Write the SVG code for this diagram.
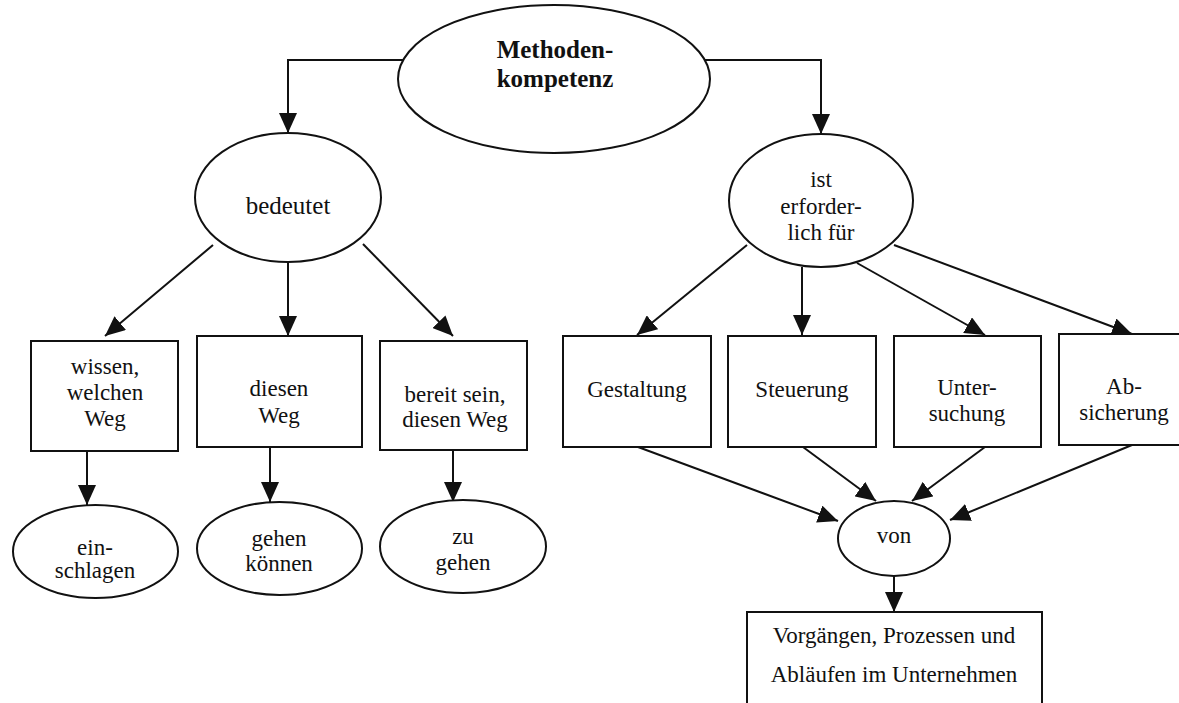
<svg xmlns="http://www.w3.org/2000/svg" width="1179" height="703" viewBox="0 0 1179 703">
  <style>
    .shape { fill: #ffffff; stroke: #111111; stroke-width: 2; }
    .edge { fill: none; stroke: #111111; stroke-width: 2; marker-end: url(#arrow); }
    text { font-family: "Liberation Serif", "Times New Roman", serif; font-size: 23px; fill: #111111; text-anchor: middle; }
    .title { font-weight: bold; font-size: 25px; }
  </style>
  <defs>
    <marker id="arrow" markerUnits="userSpaceOnUse" markerWidth="20" markerHeight="18" refX="20" refY="9" orient="auto">
      <path d="M0,0 L20,9 L0,18 z" fill="#111111"/>
    </marker>
  </defs>
  <rect width="1179" height="703" fill="#ffffff"/>

  <g id="connectors">
    <path class="edge" d="M403,60 H288 V133"/>
    <path class="edge" d="M705,60 H821 V134"/>
    <path class="edge" d="M213,245 L105,336"/>
    <path class="edge" d="M288,262 L288,336"/>
    <path class="edge" d="M363,244 L453,336"/>
    <path class="edge" d="M87,451 L87,505"/>
    <path class="edge" d="M270,447 L270,502"/>
    <path class="edge" d="M453,450 L453,502"/>
    <path class="edge" d="M747,245 L637,335"/>
    <path class="edge" d="M802,267 L802,335"/>
    <path class="edge" d="M857,263 L985,335"/>
    <path class="edge" d="M894,245 L1132,334"/>
    <path class="edge" d="M638,447 L838,521"/>
    <path class="edge" d="M803,447 L876,501"/>
    <path class="edge" d="M985,447 L912,501"/>
    <path class="edge" d="M1132,445 L950,520"/>
    <path class="edge" d="M894,576 L894,612"/>
  </g>

  <g id="methodenkompetenz">
    <ellipse class="shape" cx="554" cy="79" rx="156" ry="74"/>
    <text class="title" x="555" y="58">Methoden-</text>
    <text class="title" x="555" y="87">kompetenz</text>
  </g>

  <g id="bedeutet">
    <ellipse class="shape" cx="288" cy="197.5" rx="93" ry="64.5"/>
    <text x="288" y="214" style="font-size:25px">bedeutet</text>
  </g>

  <g id="ist-erforderlich">
    <ellipse class="shape" cx="821" cy="200.5" rx="92" ry="66.5"/>
    <text x="821" y="187">ist</text>
    <text x="821" y="214">erforder-</text>
    <text x="821" y="240">lich für</text>
  </g>

  <g id="wissen">
    <rect class="shape" x="31" y="341" width="147" height="110"/>
    <text x="105" y="374">wissen,</text>
    <text x="105" y="400">welchen</text>
    <text x="105" y="426">Weg</text>
  </g>

  <g id="diesen-weg">
    <rect class="shape" x="197" y="336" width="165" height="111"/>
    <text x="279" y="396">diesen</text>
    <text x="279" y="423">Weg</text>
  </g>

  <g id="bereit-sein">
    <rect class="shape" x="380" y="341" width="147" height="109"/>
    <text x="455" y="402">bereit sein,</text>
    <text x="455" y="427">diesen Weg</text>
  </g>

  <g id="einschlagen">
    <ellipse class="shape" cx="95.5" cy="551.5" rx="82.5" ry="46.5"/>
    <text x="95" y="555">ein-</text>
    <text x="95" y="578">schlagen</text>
  </g>

  <g id="gehen-koennen">
    <ellipse class="shape" cx="279.5" cy="548.5" rx="82.5" ry="46.5"/>
    <text x="279" y="546">gehen</text>
    <text x="279" y="571">können</text>
  </g>

  <g id="zu-gehen">
    <ellipse class="shape" cx="463" cy="546.5" rx="83" ry="46.5"/>
    <text x="463" y="544">zu</text>
    <text x="463" y="570">gehen</text>
  </g>

  <g id="gestaltung">
    <rect class="shape" x="563" y="336" width="148" height="111"/>
    <text x="637" y="397">Gestaltung</text>
  </g>

  <g id="steuerung">
    <rect class="shape" x="728" y="336" width="148" height="111"/>
    <text x="802" y="397">Steuerung</text>
  </g>

  <g id="untersuchung">
    <rect class="shape" x="894" y="336" width="147" height="111"/>
    <text x="967" y="395">Unter-</text>
    <text x="967" y="421">suchung</text>
  </g>

  <g id="absicherung">
    <rect class="shape" x="1059" y="334" width="148" height="111"/>
    <text x="1124" y="394">Ab-</text>
    <text x="1124" y="420">sicherung</text>
  </g>

  <g id="von">
    <ellipse class="shape" cx="894" cy="538.5" rx="56" ry="37.5"/>
    <text x="894" y="543">von</text>
  </g>

  <g id="vorgaenge">
    <rect class="shape" x="747" y="612" width="295" height="100"/>
    <text x="894" y="643">Vorgängen, Prozessen und</text>
    <text x="894" y="682">Abläufen im Unternehmen</text>
  </g>
</svg>
